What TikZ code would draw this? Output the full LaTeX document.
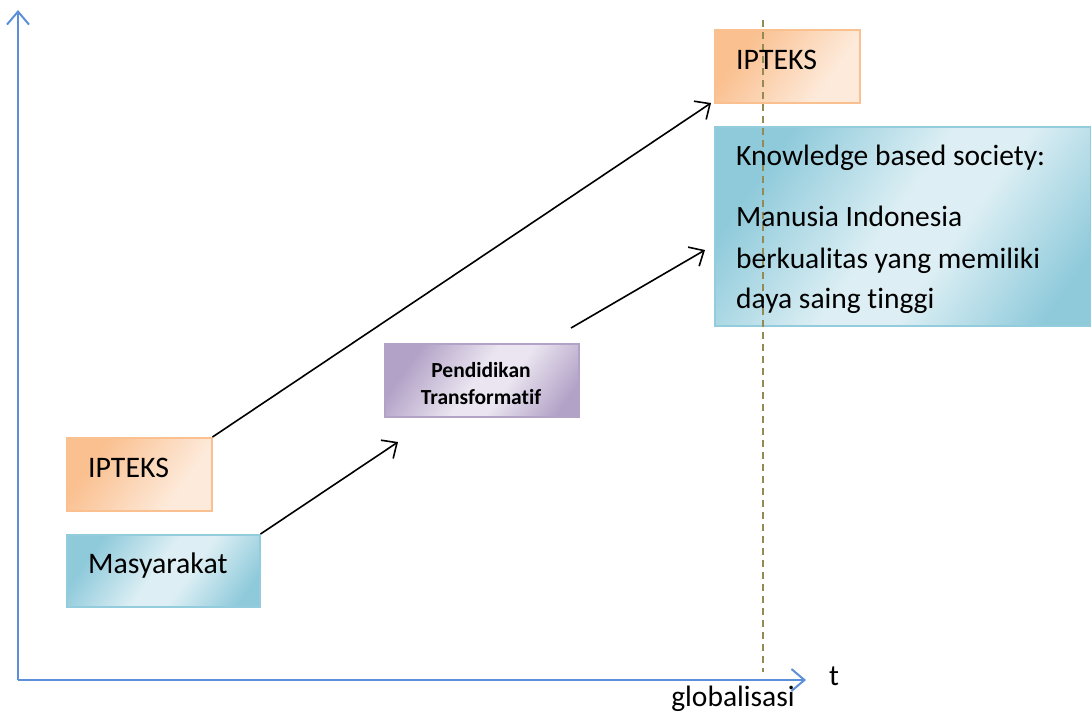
\documentclass[tikz,border=0pt]{standalone}
\usepackage{fontspec}
\setmainfont[Ligatures=NoCommon]{Carlito}
\usetikzlibrary{arrows.meta}
\definecolor{axisblue}{HTML}{5B8FD9}
\definecolor{orD}{HTML}{FAC090}
\definecolor{orL}{HTML}{FDEADA}
\definecolor{orB}{HTML}{FAC08F}
\definecolor{blD}{HTML}{8FCADB}
\definecolor{blL}{HTML}{DDEFF4}
\definecolor{blB}{HTML}{93CDDD}
\definecolor{puD}{HTML}{B3A2C7}
\definecolor{puL}{HTML}{EAE5F0}
\definecolor{puB}{HTML}{B3A2C7}
\definecolor{dashcol}{HTML}{948A54}
\pgfdeclarehorizontalshading{orshade}{100bp}{color(0bp)=(orD); color(30bp)=(orD); color(68bp)=(orL); color(100bp)=(orL)}
\pgfdeclarehorizontalshading{blshade}{100bp}{color(0bp)=(blD); color(26bp)=(blD); color(48bp)=(blL); color(58bp)=(blL); color(78bp)=(blD); color(100bp)=(blD)}
\pgfdeclarehorizontalshading{pushade}{100bp}{color(0bp)=(puD); color(26bp)=(puD); color(48bp)=(puL); color(58bp)=(puL); color(78bp)=(puD); color(100bp)=(puD)}
\tikzset{
  orbox/.style={draw=orB, line width=1.5pt, shading=orshade, shading angle=-35, anchor=north west, inner sep=0pt},
  blbox/.style={draw=blB, line width=1.5pt, shading=blshade, shading angle=-35, anchor=north west, inner sep=0pt},
  pubox/.style={draw=puB, line width=1.5pt, shading=pushade, shading angle=-35, anchor=north west, inner sep=0pt},
  lbl/.style={anchor=base west, inner sep=0pt, font=\fontsize{29.8}{36}\selectfont},
  klbl/.style={anchor=base west, inner sep=0pt, font=\fontsize{29.5}{36}\selectfont},
  arr/.style={line width=1.6pt, -{Straight Barb[length=12pt,width=22pt,line width=1.6pt]}},
  axis/.style={draw=axisblue, line width=2pt, -{Straight Barb[length=13pt,width=22pt,line width=2pt]}}
}
\begin{document}
\begin{tikzpicture}[x=1pt,y=-1pt]
\useasboundingbox (0,0) rectangle (1091,713);
% axes
\coordinate (O) at (18,680);
\coordinate (ytip) at (18,10);
\coordinate (xtip) at (806,680);
\draw[axis] (O) -- (ytip);
\draw[axis] (O) -- (xtip);
\node[anchor=base west, inner sep=0pt, font=\fontsize{29.5}{36}\selectfont] (t) at (829,685) {t};
\node[anchor=base, inner sep=0pt, font=\fontsize{29.5}{36}\selectfont] (glob) at (733,706) {globalisasi};
% boxes
\node[orbox, minimum width=145pt, minimum height=73pt] (ipt2) at (714,29) {};
\node[blbox, minimum width=376pt, minimum height=199pt] (kbs) at (714,126) {};
\node[pubox, minimum width=194pt, minimum height=73pt] (pend) at (384,343) {};
\node[orbox, minimum width=145pt, minimum height=73pt] (ipt1) at (66,437) {};
\node[blbox, minimum width=193pt, minimum height=72pt] (mas) at (66,534) {};
% dashed line
\coordinate (dtop) at (763,20);
\coordinate (dbot) at (763,672);
\draw[dashcol, line width=1.8pt, dash pattern=on 7pt off 5pt] (dtop) -- (dbot);
% labels
\node[lbl] (ipt2t) at (736,69) {IPTEKS};
\node[klbl] (kbs1) at (736,165) {Knowledge based society:};
\node[klbl] (kbs2) at (736,226) {Manusia Indonesia};
\node[klbl] (kbs3) at (736,268) {berkualitas yang memiliki};
\node[klbl] (kbs4) at (736,308) {daya saing tinggi};
\node[lbl] (ipt1t) at (88,477) {IPTEKS};
\node[lbl] (mast) at (88,573) {Masyarakat};
\node[anchor=base, inner sep=0pt, font=\bfseries\fontsize{21.5}{27}\selectfont] (pendt1) at (481,377) {Pendidikan};
\node[anchor=base, inner sep=0pt, font=\bfseries\fontsize{21.5}{27}\selectfont] (pendt2) at (481,404) {Transformatif};
% arrows
\coordinate (a1e) at (711,103);
\coordinate (a2e) at (398,442);
\coordinate (a3s) at (571,328);
\coordinate (a3e) at (705,250);
\draw[arr] (ipt1.north east) -- (a1e);
\draw[arr] (mas.north east) -- (a2e);
\draw[arr] (a3s) -- (a3e);
\end{tikzpicture}
\end{document}
